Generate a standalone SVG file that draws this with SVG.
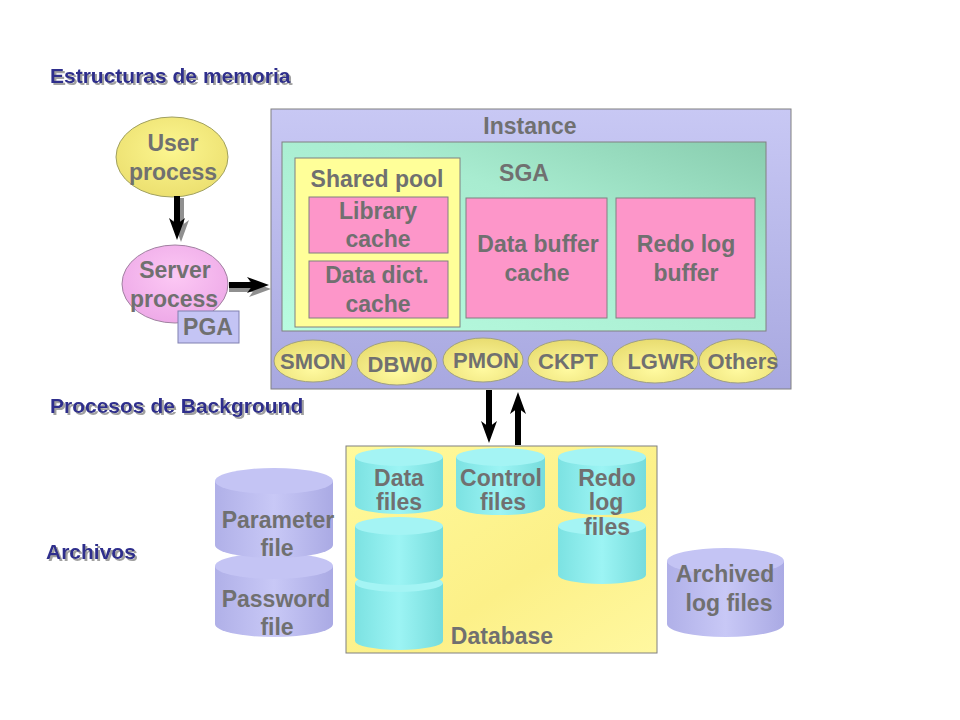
<svg xmlns="http://www.w3.org/2000/svg" width="960" height="720" viewBox="0 0 960 720">
<defs>
<style>
.t{font-family:"Liberation Sans",Arial,sans-serif;font-weight:bold;fill:#707070;text-anchor:middle;font-size:23px}
.s{font-size:22px}
.h{font-family:"Liberation Sans",Arial,sans-serif;font-weight:bold;fill:#2e2e8c;font-size:21px;filter:url(#sh)}
.box{stroke:#808080;stroke-width:1}
.pink{fill:#fd96c9;stroke:#808080;stroke-width:1}
.bp{fill:url(#yel);stroke:#a0a080;stroke-width:1}
.arr{stroke:#000;stroke-width:6;fill:none}
.arrs{stroke:#909090;stroke-width:6;fill:none}
</style>
<filter id="sh" x="-5%" y="-30%" width="110%" height="160%"><feDropShadow dx="2" dy="2" stdDeviation="0.6" flood-color="#a0a0a0"/></filter>
<linearGradient id="inst" x1="0" y1="0" x2="0" y2="1"><stop offset="0" stop-color="#c8c8f4"/><stop offset="1" stop-color="#a8a8e0"/></linearGradient>
<linearGradient id="sga" x1="0" y1="1" x2="1" y2="0"><stop offset="0" stop-color="#b8fce0"/><stop offset="0.6" stop-color="#a8ecd0"/><stop offset="1" stop-color="#88ccae"/></linearGradient>
<radialGradient id="yel" cx="0.5" cy="0.7" r="0.7"><stop offset="0" stop-color="#fffaa0"/><stop offset="1" stop-color="#e8dc70"/></radialGradient>
<radialGradient id="usr" cx="0.5" cy="0.4" r="0.6"><stop offset="0" stop-color="#fcf690"/><stop offset="1" stop-color="#ece070"/></radialGradient>
<radialGradient id="srv" cx="0.5" cy="0.4" r="0.6"><stop offset="0" stop-color="#fcc8f4"/><stop offset="1" stop-color="#eeaae8"/></radialGradient>
<linearGradient id="db" x1="0" y1="0" x2="1" y2="1"><stop offset="0" stop-color="#fffa9c"/><stop offset="0.6" stop-color="#fcf088"/><stop offset="1" stop-color="#fff8a0"/></linearGradient>
<linearGradient id="cyan" x1="0" y1="0" x2="1" y2="0"><stop offset="0" stop-color="#7ce2e2"/><stop offset="0.5" stop-color="#9cf4f4"/><stop offset="1" stop-color="#76dcdc"/></linearGradient>
<linearGradient id="lav" x1="0" y1="0" x2="1" y2="0"><stop offset="0" stop-color="#b0b0e8"/><stop offset="0.5" stop-color="#c8c8f6"/><stop offset="1" stop-color="#aaaae4"/></linearGradient>
<marker id="ah" viewBox="0 0 22 16" refX="12" refY="8" markerWidth="22" markerHeight="16" preserveAspectRatio="none" orient="auto" markerUnits="userSpaceOnUse"><path d="M0,0 L22,8 L0,16 L6,8 z" fill="#000"/></marker>
<marker id="ahs" viewBox="0 0 22 16" refX="12" refY="8" markerWidth="22" markerHeight="16" preserveAspectRatio="none" orient="auto" markerUnits="userSpaceOnUse"><path d="M0,0 L22,8 L0,16 L6,8 z" fill="#909090"/></marker>
</defs>
<rect width="960" height="720" fill="#fff"/>

<g id="headings">
<text class="h" x="50" y="83">Estructuras de memoria</text>
<text class="h" x="50" y="413">Procesos de Background</text>
<text class="h" x="46" y="559">Archivos</text>
</g>

<g id="instance">
<rect class="box" x="271" y="109" width="520" height="280" fill="url(#inst)"/>
<text class="t" x="530" y="134">Instance</text>
</g>
<g id="sga">
<rect class="box" x="282" y="142" width="484" height="189" fill="url(#sga)"/>
<text class="t" x="524" y="181">SGA</text>
</g>
<g id="shared-pool">
<rect class="box" x="295" y="158" width="165" height="169" fill="#ffff99"/>
<text class="t" x="377" y="187">Shared pool</text>
</g>
<g id="library-cache">
<rect class="pink" x="309" y="197" width="139" height="56"/>
<text class="t" x="378" y="219">Library</text>
<text class="t" x="378" y="247">cache</text>
</g>
<g id="data-dict-cache">
<rect class="pink" x="309" y="261" width="139" height="57"/>
<text class="t" x="377" y="283">Data dict.</text>
<text class="t" x="378" y="312">cache</text>
</g>
<g id="data-buffer-cache">
<rect class="pink" x="466" y="198" width="141" height="120"/>
<text class="t" x="538" y="252">Data buffer</text>
<text class="t" x="537" y="281">cache</text>
</g>
<g id="redo-log-buffer">
<rect class="pink" x="616" y="198" width="139" height="120"/>
<text class="t" x="686" y="252">Redo log</text>
<text class="t" x="686" y="281">buffer</text>
</g>

<g id="smon"><ellipse class="bp" cx="313" cy="361" rx="39" ry="21"/><text class="t s" x="313" y="369">SMON</text></g>
<g id="dbw0"><ellipse class="bp" cx="397" cy="363" rx="40" ry="22"/><text class="t s" x="400" y="372">DBW0</text></g>
<g id="pmon"><ellipse class="bp" cx="483" cy="360" rx="40" ry="22"/><text class="t s" x="486" y="368">PMON</text></g>
<g id="ckpt"><ellipse class="bp" cx="568" cy="361" rx="40" ry="21"/><text class="t s" x="568" y="369">CKPT</text></g>
<g id="lgwr"><ellipse class="bp" cx="655" cy="361" rx="43" ry="22"/><text class="t s" x="661" y="369">LGWR</text></g>
<g id="others"><ellipse class="bp" cx="738" cy="361" rx="39" ry="22"/><text class="t s" x="743" y="369">Others</text></g>

<g id="user-process">
<ellipse cx="172" cy="157" rx="56" ry="40" fill="url(#usr)" stroke="#a0a060"/>
<text class="t" x="173" y="151">User</text>
<text class="t" x="173" y="180">process</text>
</g>
<g id="server-process">
<ellipse cx="175" cy="284" rx="53" ry="39" fill="url(#srv)" stroke="#a080a0"/>
<text class="t" x="175" y="278">Server</text>
<text class="t" x="174" y="307">process</text>
</g>
<g id="pga">
<rect x="178" y="311" width="61" height="32" fill="#c4c4f4" stroke="#8080b0"/>
<text class="t" x="208" y="335">PGA</text>
</g>

<g id="database">
<rect class="box" x="346" y="446" width="311" height="207" fill="url(#db)"/>
<text class="t" x="502" y="644">Database</text>
</g>

<g id="data-files">
<path d="M355,583 v58 a44,9 0 0 0 88,0 v-58 z" fill="url(#cyan)"/><ellipse cx="399" cy="583" rx="44" ry="9" fill="#a4f4f4"/>
<path d="M355,526 v50 a44,9 0 0 0 88,0 v-50 z" fill="url(#cyan)"/><ellipse cx="399" cy="526" rx="44" ry="9" fill="#a4f4f4"/>
<path d="M355,457 v48 a44,9 0 0 0 88,0 v-48 z" fill="url(#cyan)"/><ellipse cx="399" cy="457" rx="44" ry="9" fill="#a4f4f4"/>
<text class="t" x="399" y="486">Data</text>
<text class="t" x="399" y="510">files</text>
</g>
<g id="control-files">
<path d="M456,457 v49 a44,9 0 0 0 89,0 v-49 z" fill="url(#cyan)"/><ellipse cx="500.5" cy="457" rx="44.5" ry="9" fill="#a4f4f4"/>
<text class="t" x="501" y="486">Control</text>
<text class="t" x="503" y="510">files</text>
</g>
<g id="redo-log-files">
<path d="M558,526 v49 a44,9 0 0 0 88,0 v-49 z" fill="url(#cyan)"/><ellipse cx="602" cy="526" rx="44" ry="9" fill="#a4f4f4"/>
<path d="M558,457 v49 a44,9 0 0 0 88,0 v-49 z" fill="url(#cyan)"/><ellipse cx="602" cy="457" rx="44" ry="9" fill="#a4f4f4"/>
<text class="t" x="607" y="486">Redo</text>
<text class="t" x="606" y="510">log</text>
<text class="t" x="607" y="535">files</text>
</g>

<g id="password-file">
<path d="M215,566 v58 a59,13 0 0 0 118,0 v-58 z" fill="url(#lav)"/><ellipse cx="274" cy="566" rx="59" ry="13" fill="#c4c4f4"/>
<text class="t" x="276" y="607">Password</text>
<text class="t" x="277" y="635">file</text>
</g>
<g id="parameter-file">
<path d="M215,481 v64 a59,13 0 0 0 118,0 v-64 z" fill="url(#lav)"/><ellipse cx="274" cy="481" rx="59" ry="13" fill="#c4c4f4"/>
<text class="t" x="278" y="528">Parameter</text>
<text class="t" x="277" y="556">file</text>
</g>
<g id="archived-log-files">
<path d="M667,561 v63 a58.5,13 0 0 0 117,0 v-63 z" fill="url(#lav)"/><ellipse cx="725.5" cy="561" rx="58.5" ry="13" fill="#c4c4f4"/>
<text class="t" x="725" y="582">Archived</text>
<text class="t" x="729" y="611">log files</text>
</g>

<g id="connectors">
<path class="arrs" d="M181,198 V232" marker-end="url(#ahs)"/>
<path class="arr" d="M177,196 V230" marker-end="url(#ah)"/>
<path class="arrs" d="M229,289 H261" marker-end="url(#ahs)"/>
<path class="arr" d="M229,285 H259" marker-end="url(#ah)"/>
<path class="arr" d="M489,390 V433" marker-end="url(#ah)"/>
<path class="arr" d="M518,445 V402" marker-end="url(#ah)"/>
</g>
</svg>
